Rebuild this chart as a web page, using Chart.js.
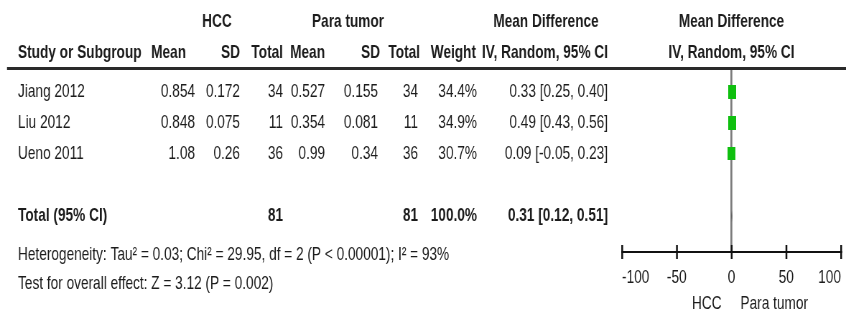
<!DOCTYPE html>
<html>
<head>
<meta charset="utf-8">
<script src="https://cdn.jsdelivr.net/npm/chart.js@4.4.1/dist/chart.umd.min.js"></script>
<style>
  html, body { margin: 0; padding: 0; overflow: hidden; background: #fff; width: 846px; height: 320px; }
  /* the forest plot is laid out wide, then narrowed to the page width */
  #wrap { width: 1178px; height: 320px; transform: scaleX(0.718166); transform-origin: 0 0; }
</style>
</head>
<body>
<div id="wrap"><canvas id="forest" width="1178" height="320"></canvas></div>
<script>
// ---- study data ----
const studies   = ['Jiang 2012', 'Liu 2012', 'Ueno 2011'];
const hccMean   = [0.854, 0.848, 1.08];
const hccSD     = [0.172, 0.075, 0.26];
const hccN      = [34, 11, 36];
const paraMean  = [0.527, 0.354, 0.99];
const paraSD    = [0.155, 0.081, 0.34];
const paraN     = [34, 11, 36];
const weights   = [34.4, 34.9, 30.7];
const meanDiff  = [0.33, 0.49, 0.09];
const ciLow     = [0.25, 0.43, -0.05];
const ciHigh    = [0.40, 0.56, 0.23];
// ---- pooled estimate ----
const totalMD   = 0.31;
const totalCI   = [0.12, 0.51];
// ---- axis and captions ----
const axisTicks = [-100, -50, 0, 50, 100];
const favourLabels = ['HCC', 'Para tumor'];
const heterogeneityText = 'Heterogeneity: Tau\u00B2 = 0.03; Chi\u00B2 = 29.95, df = 2 (P < 0.00001); I\u00B2 = 93%';
const overallEffectText = 'Test for overall effect: Z = 3.12 (P = 0.002)';
// row slots on the plot (row 4 is the blank spacer)
const studyRows = [1, 2, 3];
const totalRow  = 5;

// ---- layout helpers ----
const W = 1178;
const SX = 846 / W;                 // horizontal narrowing applied by CSS
const rx = x => x / SX;             // page x -> canvas x
const FONT = '"Liberation Sans", Arial, Helvetica, sans-serif';
const FS = 19;
const INK = '#1c1c1c';
const GREEN = '#0fbf0f';

function put(ctx, str, x, y, align, bold) {
  ctx.font = (bold ? 'bold ' : '') + FS + 'px ' + FONT;
  ctx.textAlign = align;
  ctx.textBaseline = 'middle';
  ctx.fillStyle = INK;
  ctx.fillText(str, rx(x), y);
}
const f2 = v => v.toFixed(2);
const sum = a => a.reduce((s, v) => s + v, 0);

// weight-scaled squares (area proportional to weight)
function squareFor(w) {
  const h = Math.round(14 * Math.sqrt(w / 34.6));
  const c = document.createElement('canvas');
  c.width = Math.round(8.2 / SX * h / 14);
  c.height = h;
  const g = c.getContext('2d');
  g.fillStyle = GREEN;
  g.fillRect(0, 0, c.width, c.height);
  return c;
}

// table columns, header rules, captions
const tablePlugin = {
  id: 'forestTable',
  afterDraw(chart) {
    const ctx = chart.ctx;
    const yS = chart.scales.y, xS = chart.scales.x;
    const zero = xS.getPixelForValue(0) * SX;
    ctx.save();

    // header rule
    ctx.fillStyle = '#2a2a2a';
    ctx.fillRect(rx(7), 67, W, 3);

    // header lines
    put(ctx, 'HCC', 217, 22, 'center', true);
    put(ctx, 'Para tumor', 348, 22, 'center', true);
    put(ctx, 'Mean Difference', 546, 22, 'center', true);
    put(ctx, 'Mean Difference', zero, 22, 'center', true);

    put(ctx, 'Study or Subgroup', 18, 53, 'left', true);
    put(ctx, 'Mean', 186, 53, 'right', true);
    put(ctx, 'SD', 240, 53, 'right', true);
    put(ctx, 'Total', 283, 53, 'right', true);
    put(ctx, 'Mean', 325, 53, 'right', true);
    put(ctx, 'SD', 380, 53, 'right', true);
    put(ctx, 'Total', 420, 53, 'right', true);
    put(ctx, 'Weight', 476, 53, 'right', true);
    put(ctx, 'IV, Random, 95% CI', 608, 53, 'right', true);
    put(ctx, 'IV, Random, 95% CI', zero, 53, 'center', true);

    // study rows
    studies.forEach((s, i) => {
      const y = yS.getPixelForValue(studyRows[i]);
      put(ctx, s, 18, y, 'left');
      put(ctx, String(hccMean[i]), 195, y, 'right');
      put(ctx, String(hccSD[i]), 240, y, 'right');
      put(ctx, String(hccN[i]), 283, y, 'right');
      put(ctx, String(paraMean[i]), 325, y, 'right');
      put(ctx, String(paraSD[i]), 378, y, 'right');
      put(ctx, String(paraN[i]), 418, y, 'right');
      put(ctx, weights[i].toFixed(1) + '%', 477, y, 'right');
      put(ctx, f2(meanDiff[i]) + ' [' + f2(ciLow[i]) + ', ' + f2(ciHigh[i]) + ']', 608, y, 'right');
    });

    // pooled row
    const yt = yS.getPixelForValue(totalRow);
    put(ctx, 'Total (95% CI)', 18, yt, 'left', true);
    put(ctx, String(sum(hccN)), 283, yt, 'right', true);
    put(ctx, String(sum(paraN)), 418, yt, 'right', true);
    put(ctx, sum(weights).toFixed(1) + '%', 477, yt, 'right', true);
    put(ctx, f2(totalMD) + ' [' + f2(totalCI[0]) + ', ' + f2(totalCI[1]) + ']', 608, yt, 'right', true);

    // statistics captions
    put(ctx, heterogeneityText, 18, 255, 'left');
    put(ctx, overallEffectText, 18, 284, 'left');

    // favours labels either side of zero
    put(ctx, favourLabels[0], zero - 10, 304, 'right');
    put(ctx, favourLabels[1], zero + 9, 304, 'left');

    // axis tick marks crossing the axis line
    ctx.fillStyle = '#111';
    xS.ticks.forEach((t, i) => {
      const px = xS.getPixelForTick(i);
      ctx.fillRect(px - 1, 245, 2.4 / SX * 0.75, 14);
    });
    ctx.restore();
  }
};

// confidence whiskers and pooled diamond
const marksPlugin = {
  id: 'forestMarks',
  beforeDatasetsDraw(chart) {
    const ctx = chart.ctx;
    const yS = chart.scales.y, xS = chart.scales.x;
    ctx.save();
    ctx.strokeStyle = '#111';
    ctx.lineWidth = 1.3;
    studyRows.forEach((r, i) => {
      const y = yS.getPixelForValue(r);
      ctx.beginPath();
      ctx.moveTo(xS.getPixelForValue(ciLow[i]), y);
      ctx.lineTo(xS.getPixelForValue(ciHigh[i]), y);
      ctx.stroke();
    });
    const y = yS.getPixelForValue(totalRow);
    ctx.fillStyle = '#111';
    ctx.beginPath();
    ctx.moveTo(xS.getPixelForValue(totalCI[0]), y);
    ctx.lineTo(xS.getPixelForValue(totalMD), y - 6);
    ctx.lineTo(xS.getPixelForValue(totalCI[1]), y);
    ctx.lineTo(xS.getPixelForValue(totalMD), y + 6);
    ctx.closePath();
    ctx.fill();
    ctx.restore();
  }
};

new Chart(document.getElementById('forest'), {
  type: 'scatter',
  data: {
    datasets: [{
      label: 'Mean difference',
      data: meanDiff.map((v, i) => ({ x: v, y: studyRows[i] })),
      pointStyle: weights.map(squareFor),
      pointRadius: 6,
      pointHoverRadius: 6
    }]
  },
  options: {
    responsive: false,
    animation: false,
    events: [],
    layout: { padding: { left: rx(622), right: W - rx(845), top: 69, bottom: 0 } },
    plugins: { legend: { display: false }, tooltip: { enabled: false } },
    scales: {
      x: {
        type: 'linear',
        min: -100,
        max: 100,
        afterBuildTicks: s => { s.ticks = axisTicks.map(v => ({ value: v })); },
        afterFit: s => { s.height = 68; },
        border: { display: true, color: '#111', width: 2 },
        grid: {
          drawOnChartArea: true,
          drawTicks: true,
          tickLength: 14,
          tickColor: 'rgba(0,0,0,0)',
          color: c => (c.tick && c.tick.value === 0 ? '#7a7a7a' : 'rgba(0,0,0,0)'),
          lineWidth: 2.7
        },
        ticks: {
          align: 'inner',
          autoSkip: false,
          maxRotation: 0,
          padding: 0,
          color: INK,
          font: { family: FONT, size: FS }
        }
      },
      y: {
        type: 'linear',
        display: false,
        reverse: true,
        min: 0.2581,
        max: 6.1613
      }
    }
  },
  plugins: [marksPlugin, tablePlugin]
});
</script>
</body>
</html>
